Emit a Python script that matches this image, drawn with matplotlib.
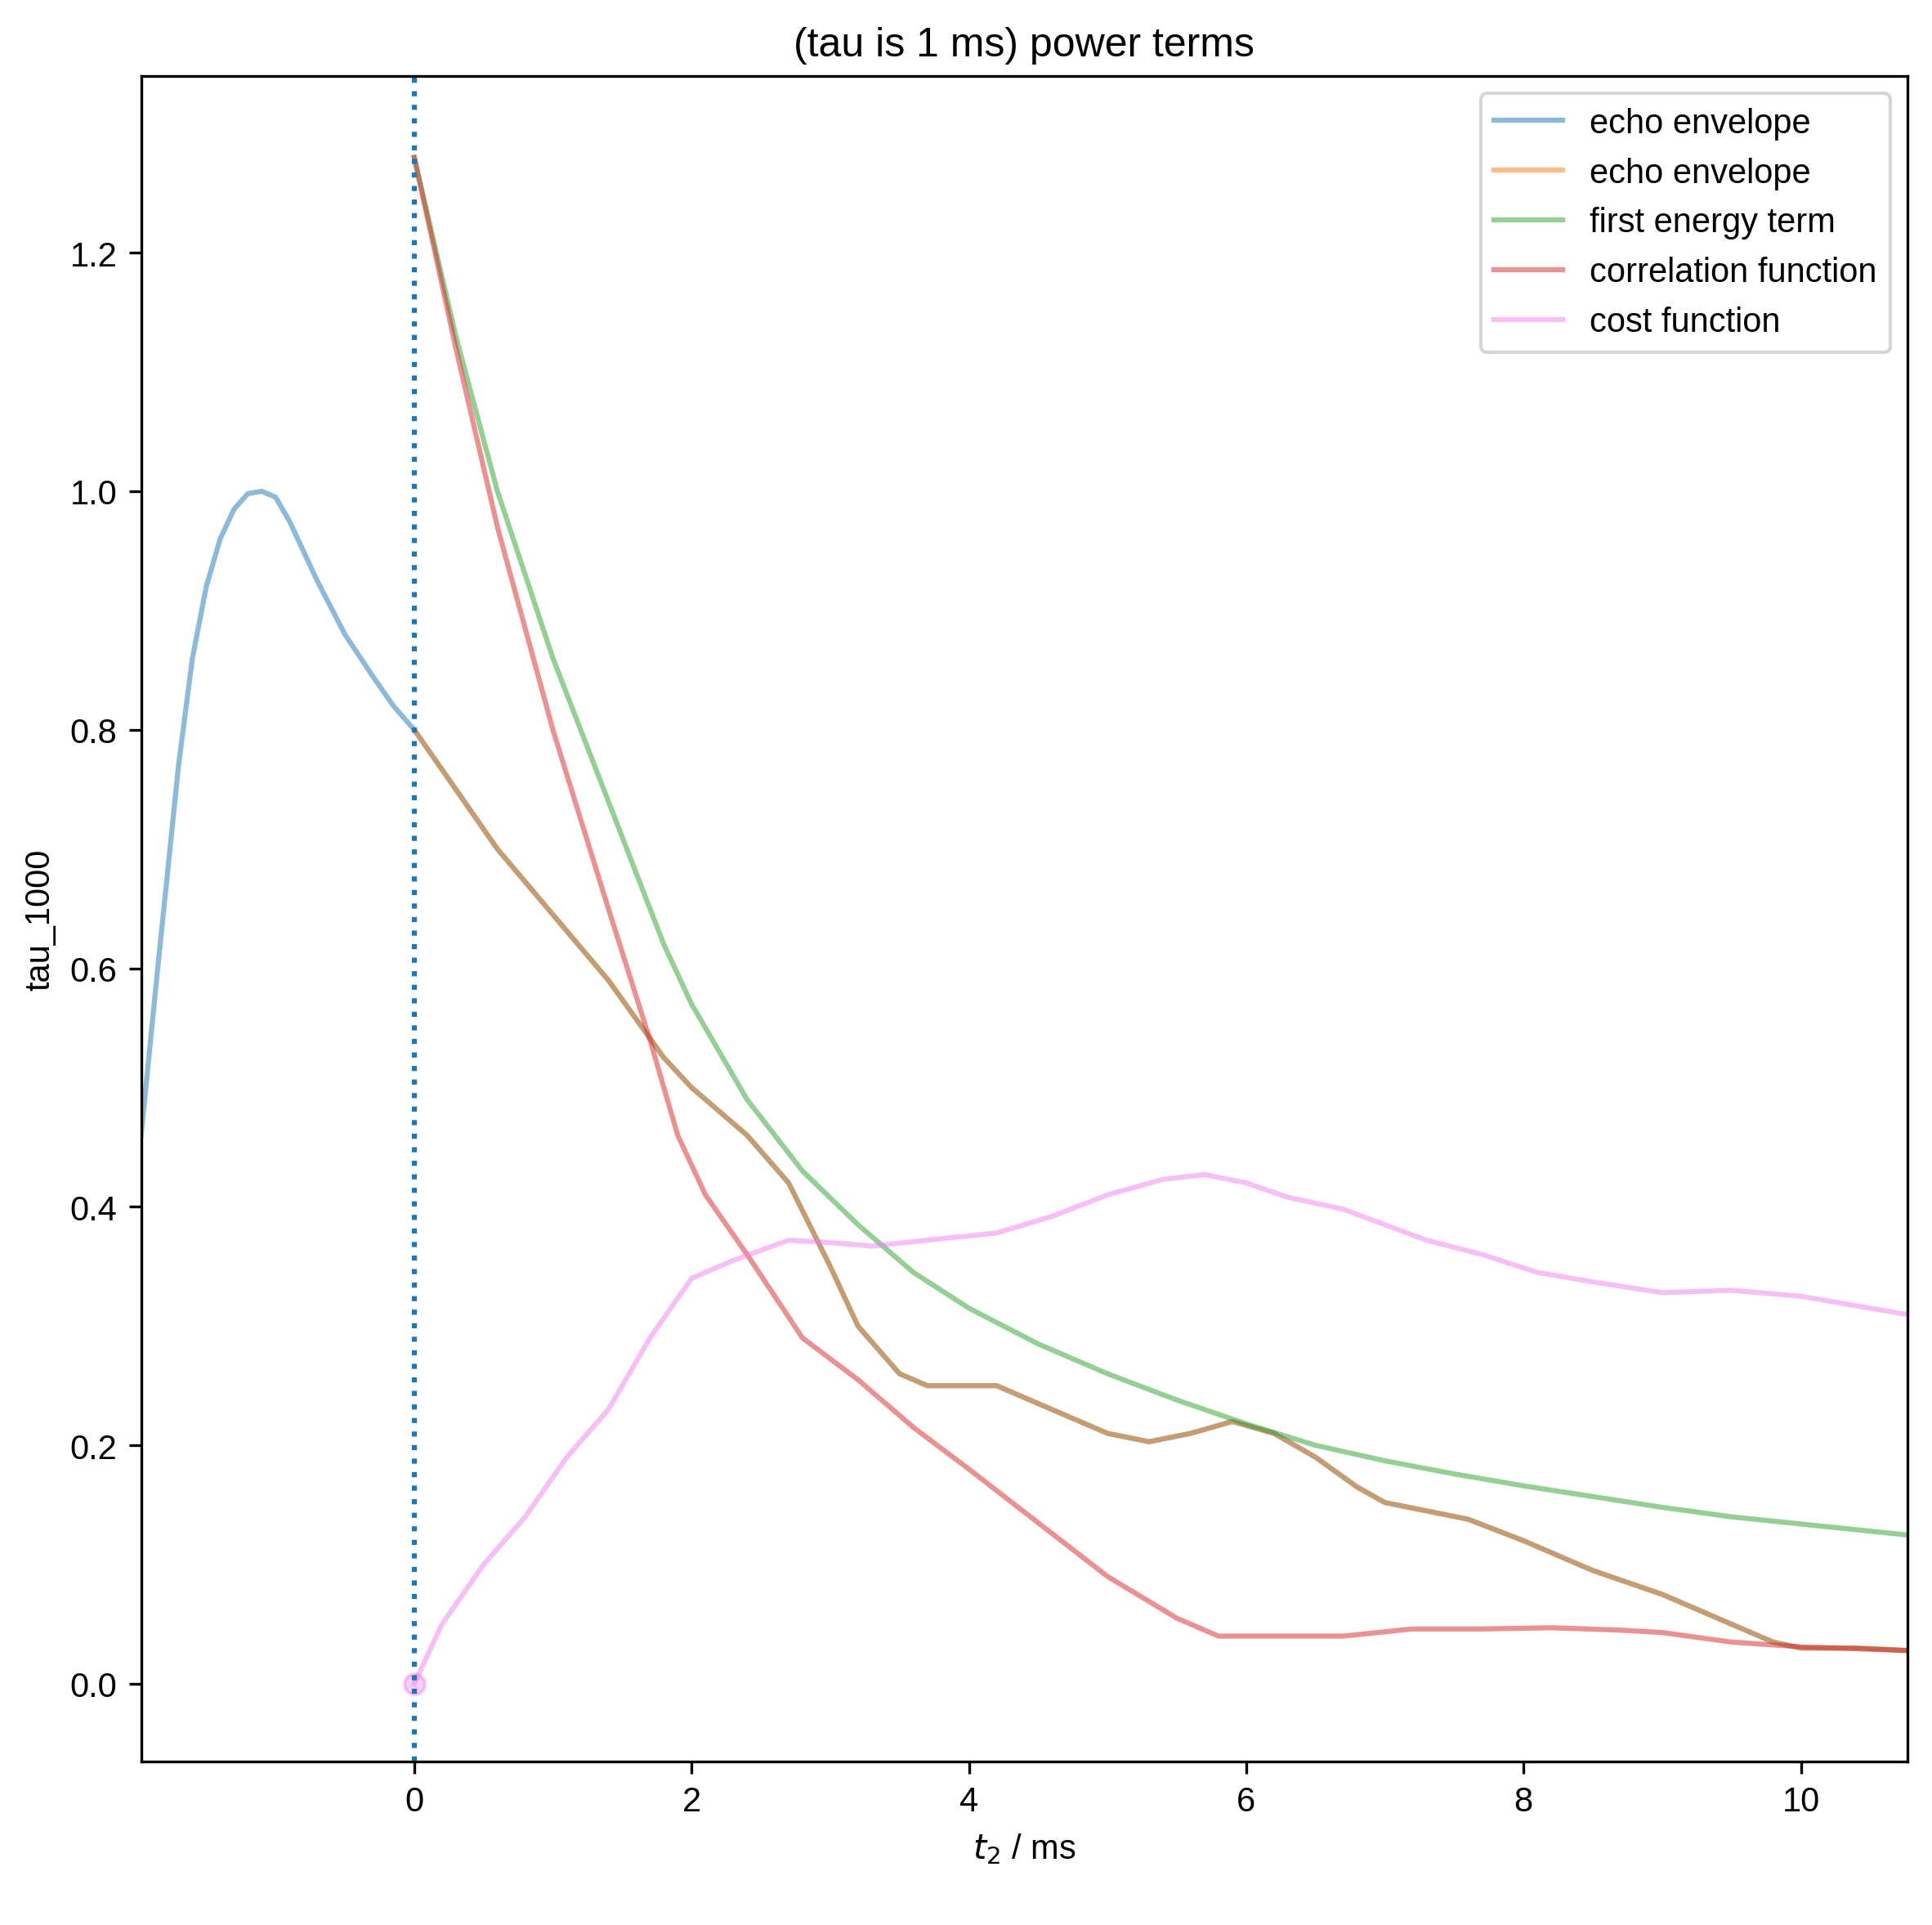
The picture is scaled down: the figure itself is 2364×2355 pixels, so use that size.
import numpy as np
import matplotlib.pyplot as plt

plt.rcParams['font.family'] = ['Liberation Sans', 'DejaVu Sans']

# echo envelope (full range)
t_echo = [-1.97, -1.85, -1.7, -1.6, -1.5, -1.4, -1.3, -1.2, -1.1, -1.0, -0.9, -0.7,
          -0.5, -0.3, -0.15, 0.0,
          0.3, 0.6, 1.0, 1.4, 1.8, 2.0, 2.4, 2.7, 3.0, 3.2, 3.5, 3.7, 4.0, 4.2, 4.5,
          5.0, 5.3, 5.6, 5.9, 6.2, 6.5, 6.8, 7.0, 7.3, 7.6, 8.0, 8.5, 9.0, 9.4, 9.8,
          10.0, 10.4, 10.75]
echo = [0.46, 0.60, 0.77, 0.86, 0.92, 0.96, 0.985, 0.998, 1.0, 0.995, 0.975, 0.925,
        0.88, 0.845, 0.82, 0.80,
        0.75, 0.70, 0.645, 0.59, 0.525, 0.50, 0.46, 0.42, 0.35, 0.30, 0.26, 0.25,
        0.25, 0.25, 0.235, 0.21, 0.203, 0.21, 0.22, 0.21, 0.19, 0.165, 0.152, 0.145,
        0.138, 0.12, 0.095, 0.075, 0.055, 0.035, 0.030, 0.03, 0.028]

t_green = [0.0, 0.3, 0.6, 1.0, 1.4, 1.8, 2.0, 2.4, 2.8, 3.2, 3.6, 4.0, 4.5, 5.0,
           5.5, 6.0, 6.5, 7.0, 7.5, 8.0, 8.5, 9.0, 9.5, 10.0, 10.75]
energy = [1.28, 1.13, 1.0, 0.86, 0.74, 0.62, 0.57, 0.49, 0.43, 0.385, 0.345, 0.315,
          0.285, 0.26, 0.238, 0.218, 0.2, 0.187, 0.176, 0.166, 0.157, 0.148, 0.14,
          0.134, 0.125]

t_red = [0.0, 0.3, 0.6, 1.0, 1.4, 1.7, 1.9, 2.1, 2.4, 2.8, 3.2, 3.6, 4.0, 4.5, 5.0,
         5.5, 5.8, 6.2, 6.7, 7.2, 7.7, 8.2, 8.7, 9.0, 9.5, 10.0, 10.75]
corr = [1.28, 1.12, 0.97, 0.80, 0.65, 0.54, 0.46, 0.41, 0.36, 0.29, 0.255, 0.215,
        0.18, 0.135, 0.09, 0.055, 0.04, 0.04, 0.04, 0.046, 0.046, 0.047, 0.045,
        0.043, 0.035, 0.031, 0.028]

t_cost = [0.0, 0.2, 0.5, 0.8, 1.1, 1.4, 1.7, 2.0, 2.3, 2.7, 3.0, 3.3, 3.7, 4.2, 4.6,
          5.0, 5.4, 5.7, 6.0, 6.3, 6.7, 7.0, 7.3, 7.7, 8.1, 8.5, 9.0, 9.5, 10.0, 10.75]
cost = [0.0, 0.05, 0.1, 0.14, 0.19, 0.23, 0.29, 0.34, 0.355, 0.372, 0.37, 0.367,
        0.372, 0.378, 0.392, 0.41, 0.423, 0.427, 0.42, 0.408, 0.398, 0.385, 0.372,
        0.36, 0.345, 0.337, 0.328, 0.33, 0.325, 0.31]

t_echo = np.array(t_echo)
echo = np.array(echo)
pos = t_echo >= 0

fig, ax = plt.subplots(figsize=(7.883, 7.853), dpi=300)
ax.plot(t_echo, echo, alpha=0.5, label='echo envelope')
ax.plot(t_echo[pos], echo[pos], alpha=0.5, label='echo envelope')
ax.plot(t_green, energy, alpha=0.5, label='first energy term')
ax.plot(t_red, corr, alpha=0.5, label='correlation function')
ax.plot(t_cost, cost, color='violet', alpha=0.5, label='cost function')
ax.plot([t_cost[0]], [cost[0]], 'o', color='violet', alpha=0.4)
ax.axvline(0, color='C0', linestyle=':')
ax.set_xlim(-1.97, 10.77)
ax.set_ylim(-0.065, 1.348)
ax.set_xlabel('$t_2$ / ms')
ax.set_ylabel('tau_1000')
ax.set_title('(tau is 1 ms) power terms')
ax.legend(loc='upper right')
fig.subplots_adjust(left=0.073, right=0.987, top=0.960, bottom=0.085)
plt.savefig('out.png')
